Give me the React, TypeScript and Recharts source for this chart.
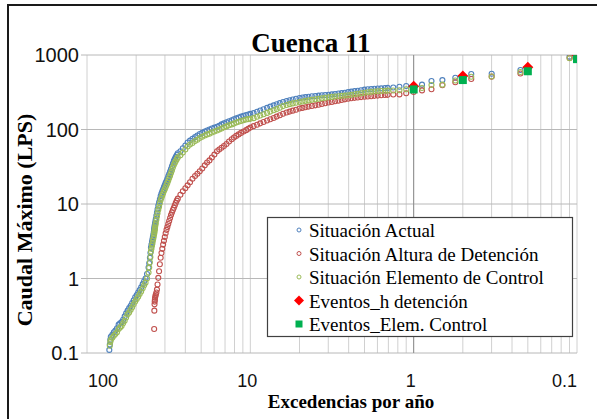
import {
  ScatterChart,
  Scatter,
  XAxis,
  YAxis,
  CartesianGrid,
  ReferenceLine,
} from 'recharts';

// Excedencias por año (shared by the three simulated series)
const exceedances = [
  73, 72.5, 72, 71.5, 70, 68.5, 67, 65.5, 64, 62.7, 61.4, 60.1, 58.8, 57.6, 56.4, 55.2,
  54, 52.9, 51.8, 50.7, 49.6, 48.6, 47.6, 46.6, 45.6, 44.7, 43.8, 42.9, 42, 41.6, 41.2, 40.9,
  40.6, 40.3, 40.0, 39.75, 39.5, 39.25, 39.0, 38.8, 38.7, 38.6, 38.5, 38.4, 38.3, 38.1, 37.9,
  37.6, 37.3, 37.0, 36.6, 36.2, 35.8, 35.4, 35.0, 34.6, 34.2, 33.8, 33.4, 33.0, 32.6, 32.2,
  31.8, 31.4, 31.0, 30.6, 30.2, 29.8, 29.4, 29.0, 28.6, 28.2, 27.8,
  26.8, 25.9, 25.0, 24.2, 23.4, 22.6, 21.8, 21.1, 20.4, 19.7, 19.0, 18.4, 17.8, 17.2, 16.6,
  16.0, 15.5, 15.0, 14.5, 14.0, 13.5, 13.0, 12.6, 12.2, 11.8, 11.4, 11.0, 10.6, 10.3, 10.0,
  9.55, 9.1, 8.7, 8.3, 7.9, 7.55, 7.2, 6.9, 6.6, 6.3, 6.0, 5.75, 5.5, 5.25, 5.0, 4.8, 4.6,
  4.4, 4.2, 4.0, 3.82, 3.65, 3.48, 3.32, 3.17, 3.03, 2.89, 2.76, 2.64, 2.52, 2.41, 2.3, 2.2,
  2.1, 2.0, 1.91, 1.82, 1.74, 1.66, 1.58, 1.5,
  1.444, 1.333, 1.222, 1.111, 1, 0.889, 0.778, 0.667, 0.556, 0.444, 0.333, 0.222, 0.111,
];

// Caudal máximo (LPS)
const situacionActual = [
  0.11, 0.13, 0.15, 0.165, 0.175, 0.19, 0.2, 0.215, 0.24, 0.25, 0.26, 0.28, 0.31, 0.34, 0.37, 0.4,
  0.43, 0.47, 0.51, 0.56, 0.6, 0.65, 0.7, 0.76, 0.84, 0.92, 1.0, 1.15, 1.4, 1.6, 1.9, 2.2,
  2.6, 2.85, 3.1, 3.35, 3.6, 3.9, 4.2, 4.5, 4.7, 4.9, 5.1, 5.3, 5.5, 5.9, 6.3,
  7.0, 7.7, 8.5, 9.5, 10.5, 11.6, 12.8, 13.8, 14.8, 15.8, 16.9, 18.0, 19.2, 20.4, 21.8,
  23.5, 25.3, 27.2, 29.5, 32, 35, 38, 40.5, 43, 45.5, 48,
  51, 56, 61, 67, 71, 75, 79, 83, 87, 90, 94, 97, 100, 103, 106,
  109, 112, 117, 121, 125, 129, 133, 137, 141, 145, 149, 153, 156, 159, 162,
  166, 173, 180, 187, 195, 203, 211, 218, 226, 234, 241, 247, 253, 259, 265, 269, 272,
  275, 279, 282, 285, 288, 290, 293, 296, 300, 304, 308, 312, 317, 322, 327, 332,
  337, 343, 347, 350, 353, 355, 357, 360,
  362, 367, 374, 384, 388, 400, 448, 460, 495, 556, 560, 630, 950,
];

const alturaDetencion = [
  null, null, null, null, null, null, null, null, null, null, null, null, null, null, null, null,
  null, null, null, null, null, null, null, null, null, null, null, null, null, null, null, null,
  null, null, null, null, null, null, null, 0.21, 0.37, 0.45, 0.49, 0.52, 0.55, 0.58, 0.61,
  0.65, 0.71, 0.83, 1.02, 1.25, 1.55, 1.9, 2.2, 2.5, 2.85, 3.2, 3.6, 4.05, 4.5, 4.9,
  5.4, 5.9, 6.5, 7.1, 7.7, 8.3, 8.9, 9.6, 10.4, 11.1, 11.8,
  13.3, 14.8, 16.3, 17.8, 19.6, 21.8, 23.8, 25.5, 27.5, 30, 33, 36, 38.5, 42, 46,
  51, 54, 57, 60, 64, 69, 74, 78, 82, 86, 90, 94, 98, 102, 106,
  111, 116, 121, 126, 132, 137, 143, 149, 155, 163, 169, 174, 179, 184, 191, 195, 199,
  203, 207, 211, 215, 220, 225, 230, 234, 239, 244, 249, 254, 259, 263, 266, 269,
  272, 275, 277, 280, 283, 285, 288, 290,
  292, 295, 296, 306, 318, 335, 347, 392, 430, 476, 512, 565, 910,
];

const elementoControl = [
  null, 0.125, 0.14, 0.15, 0.16, 0.17, 0.18, 0.19, 0.21, 0.22, 0.23, 0.25, 0.27, 0.3, 0.33, 0.35,
  0.38, 0.41, 0.45, 0.49, 0.53, 0.57, 0.62, 0.67, 0.74, 0.81, 0.88, 1.0, 1.2, 1.4, 1.65, 1.95,
  2.3, 2.5, 2.75, 2.95, 3.2, 3.45, 3.7, 3.95, 4.1, 4.3, 4.5, 4.65, 4.85, 5.2, 5.55,
  6.15, 6.8, 7.5, 8.4, 9.2, 10.2, 11.3, 12.1, 13.0, 13.9, 14.9, 15.8, 16.9, 18.0, 19.2,
  20.7, 22.3, 24, 26, 28.2, 30.8, 33.4, 35.6, 37.8, 40, 42.2,
  45, 49, 54, 59, 63, 66, 70, 73, 77, 80, 83, 86, 88, 91, 94,
  97, 100, 103, 107, 110, 114, 117, 120, 124, 127, 130, 133, 136, 138, 139,
  142, 148, 154, 160, 167, 174, 181, 188, 196, 206, 213, 219, 224, 229, 234, 238, 242,
  246, 250, 254, 258, 262, 266, 270, 274, 277, 280, 283, 285, 288, 292, 297, 302,
  307, 312, 316, 320, 323, 326, 329, 332,
  333, 334, 336, 347, 350, 360, 395, 400, 455, 511, 515, 590, 905,
];

// Eventos de diseño
const eventExceedances = [1, 0.5, 0.2, 0.1];
const eventosDetencion = [380, 523, 684, 1000];
const eventosElemControl = [345, 461, 605, 880];

const yTicks = [0.1, 1, 10, 100, 1000];
const decadeLabels = [100, 10, 1, 0.1];
const xGridLines = [
  ...[100, 10, 1].flatMap((d) => [1, 2, 3, 4, 5, 6, 7, 8, 9].map((k) => d / k)),
  0.1,
];

const BLUE = '#4F81BD';
const RED = '#C0504D';
const GREEN = '#9BBB59';
const SERIF = "'Liberation Serif', 'Times New Roman', serif";
const SANS = "'Liberation Sans', Arial, sans-serif";

const toPoints = (ys: (number | null)[]) =>
  exceedances
    .map((x, i) => ({ x, y: ys[i] }))
    .filter((p) => p.y != null);

const eventPoints = (ys: number[]) => eventExceedances.map((x, i) => ({ x, y: ys[i] }));

const ring = (color: string) => (props: any) => (
  <circle cx={props.cx} cy={props.cy} r={2.5} fill="none" stroke={color} strokeWidth={1.1} />
);

const Diamond = (props: any) => {
  const { cx, cy } = props;
  const s = 5.5;
  return (
    <polygon
      points={`${cx},${cy - s} ${cx + s},${cy} ${cx},${cy + s} ${cx - s},${cy}`}
      fill="#FF0000"
    />
  );
};

const Square = (props: any) => (
  <rect x={props.cx - 4} y={props.cy - 4} width={8} height={8} fill="#00B050" />
);

const XTick = (props: any) => {
  const { x, y, payload } = props;
  const v = payload.value;
  if (!decadeLabels.some((d) => Math.abs(d - v) < 1e-9)) return <g />;
  const anchor = v === 100 ? 'start' : v === 0.1 ? 'end' : 'middle';
  const shift = v === 100 ? 1 : v === 0.1 ? 0 : -3;
  return (
    <text
      x={x + shift}
      y={y}
      dy={34}
      textAnchor={anchor}
      fontSize={18}
      fontFamily={SANS}
      fill="#111"
    >
      {v}
    </text>
  );
};

const legendRows = [
  { label: 'Situación Actual', kind: 'ring', color: BLUE },
  { label: 'Situación Altura de Detención', kind: 'ring', color: RED },
  { label: 'Situación Elemento de Control', kind: 'ring', color: GREEN },
  { label: 'Eventos_h detención', kind: 'diamond', color: '#FF0000' },
  { label: 'Eventos_Elem. Control', kind: 'square', color: '#00B050' },
];

// legend box drawn over the plot, rows 23.5px apart
const LegendBox = () => (
  <g>
    <rect x={267.5} y={217.5} width={305} height={119} fill="#fff" stroke="#404040" strokeWidth={1.2} />
    {legendRows.map((r, i) => {
      const base = 237 + i * 23.5;
      const my = base - 7;
      return (
        <g key={r.label}>
          {r.kind === 'ring' && <circle cx={299} cy={my} r={2} fill="none" stroke={r.color} strokeWidth={1} />}
          {r.kind === 'diamond' && (
            <polygon points={`299,${my - 5} 304,${my} 299,${my + 5} 294,${my}`} fill={r.color} />
          )}
          {r.kind === 'square' && <rect x={295.5} y={my - 3.5} width={7} height={7} fill={r.color} />}
          <text x={309} y={base} fontFamily={SERIF} fontSize={19} fill="#000">
            {r.label}
          </text>
        </g>
      );
    })}
  </g>
);

export default function App() {
  return (
    <div style={{ position: 'absolute', left: 0, top: 0, width: 597, height: 419, background: '#fff', overflow: 'hidden' }}>
      <div
        style={{
          position: 'absolute',
          left: 7,
          top: 4,
          width: 640,
          height: 413,
          borderLeft: '2px solid #1a1a1a',
          borderTop: '2px solid #1a1a1a',
          borderBottom: '1px solid #d9d9d9',
        }}
      />
      <div style={{ position: 'absolute', left: 0, top: 0 }}>
        <ScatterChart
          width={597}
          height={419}
          margin={{ top: 55, right: 20, bottom: 0, left: 0 }}
        >
          <CartesianGrid horizontal={false} stroke="#d0d0d0" />
          <CartesianGrid vertical={false} stroke="#b8b8b8" />
          <XAxis
            dataKey="x"
            type="number"
            scale="log"
            domain={[0.1, 100]}
            reversed
            allowDataOverflow
            ticks={xGridLines}
            interval={0}
            tick={<XTick />}
            tickLine={false}
            axisLine={false}
            tickSize={0}
            tickMargin={0}
            height={66}
          />
          <YAxis
            dataKey="y"
            type="number"
            scale="log"
            domain={[0.1, 1000]}
            allowDataOverflow
            ticks={yTicks}
            interval={0}
            width={87}
            axisLine={false}
            tickLine={{ stroke: '#b8b8b8' }}
            tickSize={6}
            tickMargin={2}
            tick={{ fontSize: 20, fill: '#111', fontFamily: SANS }}
          />
          <ReferenceLine x={1} stroke="#8c8c8c" />
          <Scatter
            name="Situación Actual"
            data={toPoints(situacionActual)}
            shape={ring(BLUE)}
            isAnimationActive={false}
          />
          <Scatter
            name="Situación Altura de Detención"
            data={toPoints(alturaDetencion)}
            shape={ring(RED)}
            isAnimationActive={false}
          />
          <Scatter
            name="Situación Elemento de Control"
            data={toPoints(elementoControl)}
            shape={ring(GREEN)}
            isAnimationActive={false}
          />
          <Scatter
            name="Eventos_h detención"
            data={eventPoints(eventosDetencion)}
            shape={<Diamond />}
            isAnimationActive={false}
          />
          <Scatter
            name="Eventos_Elem. Control"
            data={eventPoints(eventosElemControl)}
            shape={<Square />}
            isAnimationActive={false}
          />
        </ScatterChart>
      </div>
      <svg
        width={597}
        height={419}
        style={{ position: 'absolute', left: 0, top: 0, pointerEvents: 'none' }}
      >
        <LegendBox />
        <text x={311} y={52} textAnchor="middle" fontFamily={SERIF} fontWeight="bold" fontSize={27} fill="#000">
          Cuenca 11
        </text>
        <text
          x={0}
          y={0}
          transform="translate(32 220) rotate(-90)"
          textAnchor="middle"
          fontFamily={SERIF}
          fontWeight="bold"
          fontSize={22}
          fill="#000"
        >
          Caudal Máximo (LPS)
        </text>
        <text x={351} y={408} textAnchor="middle" fontFamily={SERIF} fontWeight="bold" fontSize={19} fill="#000">
          Excedencias por año
        </text>
      </svg>
    </div>
  );
}
